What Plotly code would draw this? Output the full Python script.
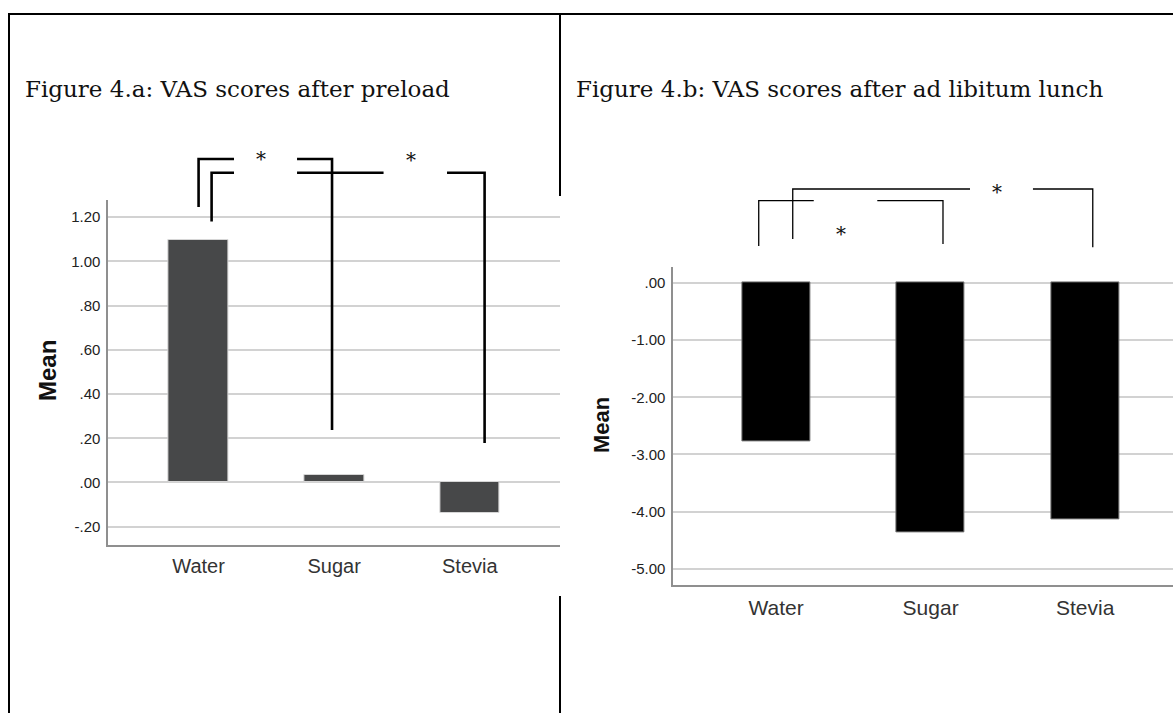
import plotly.graph_objects as go

W, H = 1173, 713

categories = ["Water", "Sugar", "Stevia"]
preload_means = [1.097, 0.033, -0.138]
lunch_means = [-2.766, -4.355, -4.14]

preload_ticks = [-0.2, 0.0, 0.2, 0.4, 0.6, 0.8, 1.0, 1.2]
preload_ticktext = ["-.20", ".00", ".20", ".40", ".60", ".80", "1.00", "1.20"]
lunch_ticks = [-5, -4, -3, -2, -1, 0]
lunch_ticktext = ["-5.00", "-4.00", "-3.00", "-2.00", "-1.00", ".00"]

title_a = "Figure 4.a: VAS scores after preload"
title_b = "Figure 4.b: VAS scores after ad libitum lunch"


def px(x):
    return x / W


def py(y):
    return 1 - y / H


fig = go.Figure()
fig.add_trace(go.Bar(x=categories, y=preload_means, width=0.44,
                     marker=dict(color="#474849", line=dict(color="#d6d6d6", width=1)),
                     xaxis="x", yaxis="y", showlegend=False, hoverinfo="skip"))
fig.add_trace(go.Bar(x=categories, y=lunch_means, width=0.44,
                     marker=dict(color="#000000", line=dict(color="#777777", width=1)),
                     xaxis="x2", yaxis="y2", showlegend=False, hoverinfo="skip"))

sans = "Liberation Sans, Arial"
tickfont = dict(family=sans, size=15, color="#222222")
axcommon = dict(showline=True, linecolor="#8f8f8f", linewidth=2, zeroline=False,
                fixedrange=True)

fig.update_layout(
    width=W, height=H, margin=dict(l=0, r=0, t=0, b=0),
    paper_bgcolor="white", plot_bgcolor="white", bargap=0,
    xaxis=dict(domain=[px(108.4), px(560)], range=[-0.665, 2.665], type="category",
               showgrid=False, tickfont=dict(family=sans, size=20, color="#333"),
               ticks="", ticklabelstandoff=2, **axcommon),
    yaxis=dict(domain=[py(545), py(200)], range=[-0.283, 1.278], tickvals=preload_ticks,
               ticktext=preload_ticktext, showgrid=True, gridcolor="#d2d2d2", gridwidth=1.5,
               tickfont=tickfont, ticks="", ticklabelstandoff=3, **axcommon),
    xaxis2=dict(domain=[px(673.4), 1.0], range=[-0.664, 2.568], type="category",
                showgrid=False, tickfont=dict(family=sans, size=21, color="#333"),
                ticks="", ticklabelstandoff=2, anchor="y2", **axcommon),
    yaxis2=dict(domain=[py(585.3), py(267.4)], range=[-5.287, 0.27], tickvals=lunch_ticks,
                ticktext=lunch_ticktext, showgrid=True, gridcolor="#d2d2d2", gridwidth=1.5,
                tickfont=tickfont, ticks="", ticklabelstandoff=3, anchor="x2", **axcommon),
)

shapes = []
# document table borders
border = dict(color="black", width=2)
shapes.append(dict(type="line", xref="paper", yref="paper", x0=px(8), x1=1, y0=py(14), y1=py(14), line=border))
shapes.append(dict(type="line", xref="paper", yref="paper", x0=px(9), x1=px(9), y0=py(13), y1=0, line=border))
shapes.append(dict(type="line", xref="paper", yref="paper", x0=px(560), x1=px(560), y0=py(13), y1=py(196), line=border))
shapes.append(dict(type="line", xref="paper", yref="paper", x0=px(560), x1=px(560), y0=py(596), y1=0, line=border))


def bracket(xref, pts, width):
    path = "M " + " L ".join(f"{x},{py(y)}" for x, y in pts)
    return dict(type="path", xref=xref, yref="paper", path=path,
                line=dict(color="black", width=width))


def seg(xref, x0, x1, y, width):
    return dict(type="line", xref=xref, yref="paper", x0=x0, x1=x1, y0=py(y), y1=py(y),
                line=dict(color="black", width=width))


# left chart significance brackets (x in category units)
lw = 2.6
shapes.append(bracket("x", [(0.0, 207), (0.0, 159), (0.261, 159)], lw))
shapes.append(bracket("x", [(0.726, 159), (0.984, 159), (0.984, 430)], lw))
shapes.append(bracket("x", [(0.096, 221.5), (0.096, 172.8), (0.261, 172.8)], lw))
shapes.append(seg("x", 0.726, 1.364, 172.8, lw))
shapes.append(bracket("x", [(1.832, 172.8), (2.109, 172.8), (2.109, 443)], lw))

# right chart significance brackets
rw = 1.3
shapes.append(bracket("x2", [(-0.112, 246), (-0.112, 200.7), (0.244, 200.7)], rw))
shapes.append(bracket("x2", [(0.655, 200.7), (1.080, 200.7), (1.080, 244)], rw))
shapes.append(bracket("x2", [(0.108, 239), (0.108, 189), (1.255, 189)], rw))
shapes.append(bracket("x2", [(1.662, 189), (2.049, 189), (2.049, 247.3)], rw))

fig.update_layout(shapes=shapes)

serif = "DejaVu Serif"


def ann(text, xref, x, y, size, family, angle=0, anchor="center"):
    return dict(text=text, xref=xref, yref="paper", x=x, y=py(y), xanchor=anchor,
                yanchor="middle", showarrow=False, textangle=angle,
                font=dict(family=family, size=size, color="#111"))


anns = [
    ann(title_a, "paper", px(23), 89, 23, serif, anchor="left"),
    ann(title_b, "paper", px(574), 89, 23, serif, anchor="left"),
    ann("<b>Mean</b>", "paper", px(48), 371, 24, sans, angle=-90),
    ann("<b>Mean</b>", "paper", px(601), 425, 22, sans, angle=-90),
    ann("*", "x", 0.46, 159, 20, serif),
    ann("*", "x", 1.564, 160, 20, serif),
    ann("*", "x2", 0.42, 234, 20, serif),
    ann("*", "x2", 1.432, 192, 20, serif),
]
fig.update_layout(annotations=anns)

fig.write_html("out.html", config={"displayModeBar": False},
               post_script="document.body.style.margin='0';")
